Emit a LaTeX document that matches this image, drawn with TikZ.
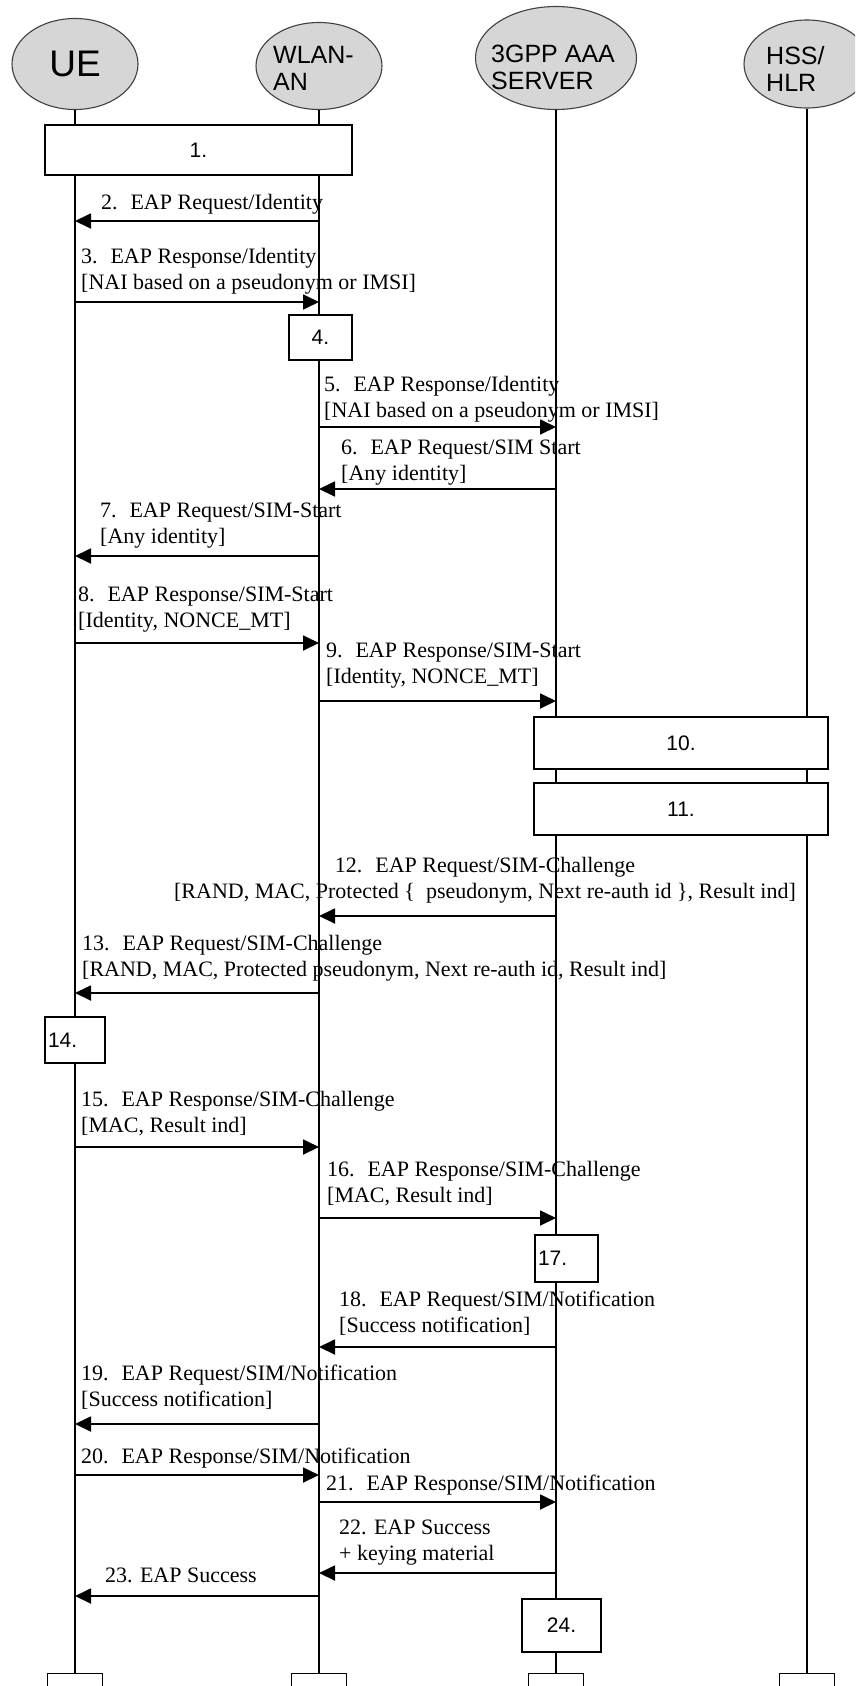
\documentclass[tikz,border=0pt]{standalone}
\usepackage{fontspec}
\setmainfont{Liberation Serif}
\setsansfont{Liberation Sans}
\usetikzlibrary{shapes.geometric, arrows.meta, positioning, calc}

\begin{document}
\begin{tikzpicture}[
        x=1pt, y=-1pt,
        entity/.style={ellipse, draw=black!75, line width=1.1pt, fill=black!16, inner sep=0pt},
        headtxt/.style={inner sep=0pt, align=left, font=\sffamily\fontsize{25}{27}\selectfont},
        life/.style={line width=1.2pt},
        procbox/.style={rectangle, draw, line width=1.4pt, fill=white, inner sep=3pt, font=\sffamily\fontsize{21}{24}\selectfont},
        endbox/.style={rectangle, draw, line width=1.4pt, fill=white, minimum width=55pt, minimum height=40pt, anchor=north},
        msg/.style={anchor=west, inner sep=0pt, align=left, font=\fontsize{22}{26}\selectfont,
            execute at begin node=\strut, execute at end node=\strut},
        arr/.style={-{Triangle[length=16pt, width=15pt]}, line width=1.8pt}
    ]
        \useasboundingbox (0,0) rectangle (855,1686);
        \clip (0,0) rectangle (855,1686);

        % Teilnehmer
        \node[entity, minimum width=126pt, minimum height=91pt] (ue) at (75,64) {};
        \node[entity, minimum width=126pt, minimum height=87pt] (wlan) at (319,66) {};
        \node[entity, minimum width=161pt, minimum height=103pt] (aaa) at (556,58) {};
        \node[entity, minimum width=126pt, minimum height=88pt] (hss) at (807,64) {};
        \node[headtxt, font=\sffamily\fontsize{37}{40}\selectfont] (uetxt) at (ue) {UE};
        \node[headtxt, anchor=west] (wlantxt) at (273,68.5) {WLAN-\\AN};
        \node[headtxt, anchor=west] (aaatxt) at (491,67.5) {3GPP AAA\\SERVER};
        \node[headtxt, anchor=west] (hsstxt) at (766,68.5) {HSS/\\HLR};

        % Lebenslinien
        \coordinate (foot) at (0,1673);
        \node[endbox] (ueend) at (ue |- foot) {};
        \node[endbox] (wlanend) at (wlan |- foot) {};
        \node[endbox] (aaaend) at (aaa |- foot) {};
        \node[endbox] (hssend) at (hss |- foot) {};
        \draw[life] (ue.south) -- (ueend.north);
        \draw[life] (wlan.south) -- (wlanend.north);
        \draw[life] (aaa.south) -- (aaaend.north);
        \draw[life] (hss.south) -- (hssend.north);

        % Verarbeitungsschritte
        \node[procbox, minimum width=307pt, minimum height=50pt] (s1) at (198.5,150) {1.};
        \node[procbox, minimum width=63pt, minimum height=45pt] (s4) at (320.5,337.5) {4.};
        \node[procbox, minimum width=294pt, minimum height=52pt] (s10) at (681,743) {10.};
        \node[procbox, minimum width=294pt, minimum height=52pt] (s11) at (681,809) {11.};
        \node[procbox, text width=54pt, align=left, minimum height=46pt] (s14) at (75,1040) {14.};
        \node[procbox, text width=57pt, align=left, minimum height=47pt] (s17) at (566.5,1258.5) {17.};
        \node[procbox, minimum width=79pt, minimum height=53pt] (s24) at (561.5,1625.5) {24.};

        % Nachrichten
        \node[msg] (m2) at (101,204) {2.~ EAP Request/Identity};
        \draw[arr] (wlan |- 0,221) -- (ue |- 0,221);
        \node[msg] (m3) at (81,272.5) {3.~ EAP Response/Identity\\{}[NAI based on a pseudonym or IMSI]};
        \draw[arr] (ue |- 0,302) -- (wlan |- 0,302);
        \node[msg] (m5) at (324,400.5) {5.~ EAP Response/Identity\\{}[NAI based on a pseudonym or IMSI]};
        \draw[arr] (wlan |- 0,427) -- (aaa |- 0,427);
        \node[msg] (m6) at (341,464) {6.~ EAP Request/SIM Start\\{}[Any identity]};
        \draw[arr] (aaa |- 0,489) -- (wlan |- 0,489);
        \node[msg] (m7) at (100,527) {7.~ EAP Request/SIM-Start\\{}[Any identity]};
        \draw[arr] (wlan |- 0,556) -- (ue |- 0,556);
        \node[msg] (m8) at (78,611) {8.~ EAP Response/SIM-Start\\{}[Identity, NONCE\_MT]};
        \draw[arr] (ue |- 0,643) -- (wlan |- 0,643);
        \node[msg] (m9) at (326,667.5) {9.~ EAP Response/SIM-Start\\{}[Identity, NONCE\_MT]};
        \draw[arr] (wlan |- 0,701) -- (aaa |- 0,701);
        \node[msg, anchor=center, align=center] (m12) at (485,882) {12.~ EAP Request/SIM-Challenge\\{}[RAND, MAC, Protected \{~ pseudonym, Next re-auth id \}, Result ind]};
        \draw[arr] (aaa |- 0,916) -- (wlan |- 0,916);
        \node[msg] (m13) at (82,959.5) {13.~ EAP Request/SIM-Challenge\\{}[RAND, MAC, Protected pseudonym, Next re-auth id, Result ind]};
        \draw[arr] (wlan |- 0,993) -- (ue |- 0,993);
        \node[msg] (m15) at (81,1116) {15.~ EAP Response/SIM-Challenge\\{}[MAC, Result ind]};
        \draw[arr] (ue |- 0,1147) -- (wlan |- 0,1147);
        \node[msg] (m16) at (327,1185.5) {16.~ EAP Response/SIM-Challenge\\{}[MAC, Result ind]};
        \draw[arr] (wlan |- 0,1218) -- (aaa |- 0,1218);
        \node[msg] (m18) at (339,1315.5) {18.~ EAP Request/SIM/Notification\\{}[Success notification]};
        \draw[arr] (aaa |- 0,1347) -- (wlan |- 0,1347);
        \node[msg] (m19) at (81,1389.5) {19.~ EAP Request/SIM/Notification\\{}[Success notification]};
        \draw[arr] (wlan |- 0,1424) -- (ue |- 0,1424);
        \node[msg] (m20) at (81,1458) {20.~ EAP Response/SIM/Notification};
        \draw[arr] (ue |- 0,1475) -- (wlan |- 0,1475);
        \node[msg] (m21) at (326,1485) {21.~ EAP Response/SIM/Notification};
        \draw[arr] (wlan |- 0,1502) -- (aaa |- 0,1502);
        \node[msg] (m22) at (339,1544.5) {22. EAP Success\\+ keying material};
        \draw[arr] (aaa |- 0,1573) -- (wlan |- 0,1573);
        \node[msg] (m23) at (105,1577) {23. EAP Success};
        \draw[arr] (wlan |- 0,1596) -- (ue |- 0,1596);
    \end{tikzpicture}
\end{document}
